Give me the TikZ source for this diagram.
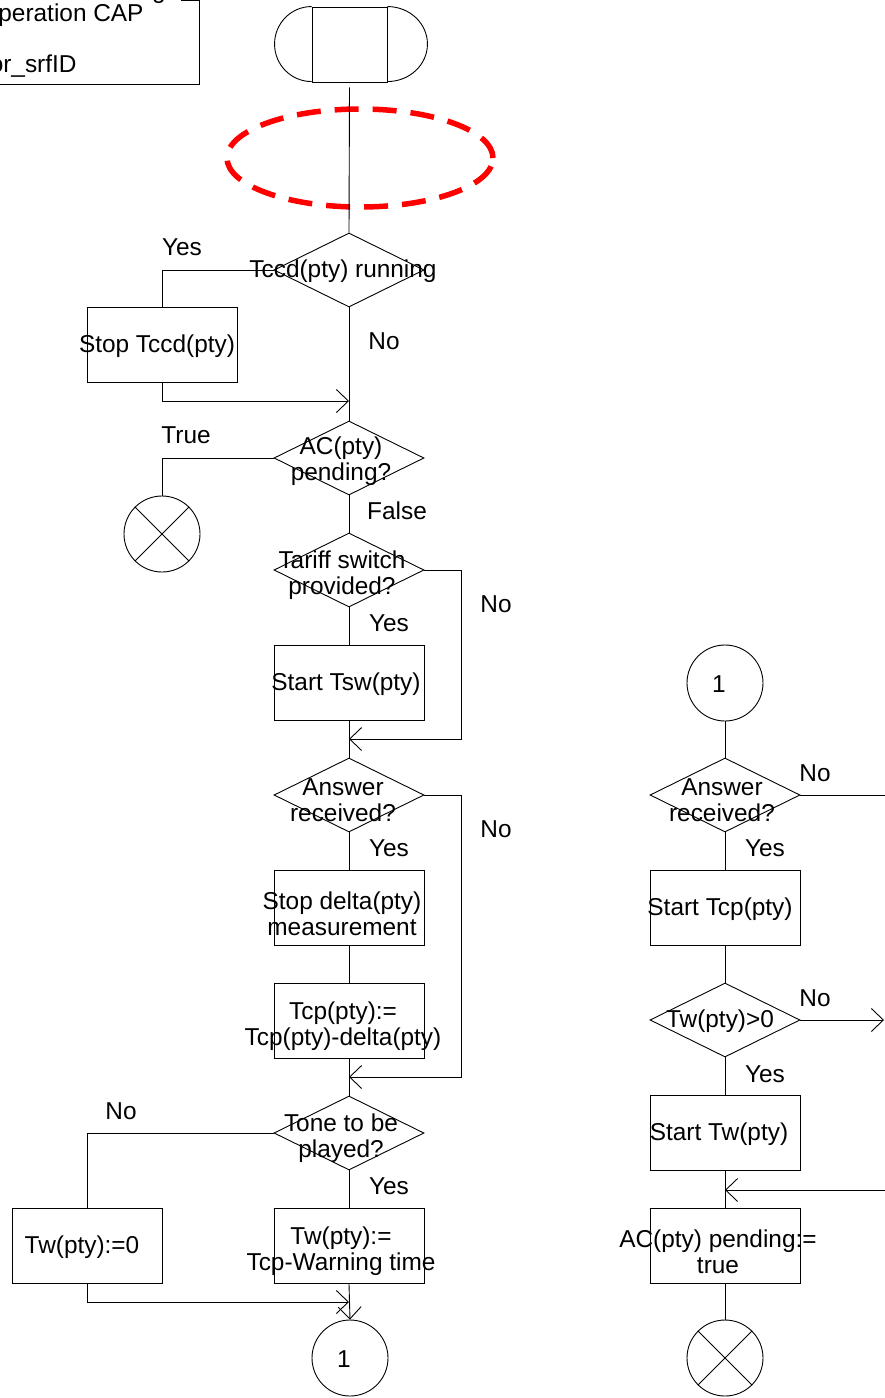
\documentclass[tikz,border=0pt]{standalone}
\usepackage{fontspec}
\setmainfont{Liberation Sans}
\usetikzlibrary{shapes.geometric,arrows.meta}
\begin{document}
\begin{tikzpicture}[x=1pt,y=-1pt,
  line width=0.9pt,
  txt/.style={font=\fontsize{24.4pt}{26pt}\selectfont, inner sep=0pt, align=center, yshift=-1.5pt},
  box/.style={draw, rectangle, minimum width=150pt, minimum height=75pt, inner sep=0pt},
  dec/.style={draw, diamond, minimum width=150pt, minimum height=74pt, inner sep=0pt},
  conn/.style={draw, circle, minimum size=76pt, inner sep=0pt},
  arr/.style={-{Straight Barb[length=12pt,width=23pt,line width=0.9pt]}},
  redell/.style={draw=red, line width=5.5pt, dash pattern=on 24pt off 14pt}]
\useasboundingbox (0,0) rectangle (885,1398);

% top-left partial box
\draw (181,0.5) -- (199,0.5) -- (199,84) -- (-5,84);
\node[txt, anchor=east] (tl1) at (144,14) {operation CAP};
\node[txt, anchor=east] (tl2) at (77,65) {or\_srfID};
\node[txt, anchor=base] (tl0) at (159,-3) {g};

% terminator
\node[draw, rectangle, minimum width=75pt, minimum height=75pt, inner sep=0pt] (term) at (349.5,44.5) {};
\draw (term.north west) arc[start angle=90, end angle=270, x radius=37pt, y radius=37.5pt];
\draw (term.north east) arc[start angle=90, end angle=-90, x radius=40pt, y radius=37.5pt];

% red dashed ellipse
\draw[redell] (360,158) ellipse[x radius=133pt, y radius=49pt];

% main column
\node[dec] (d1) at (349,270) {};
\node[box] (b1) at (162,345) {};
\node[dec] (d2) at (349,458) {};
\node[conn] (x1) at (162,534) {};
\node[dec] (d3) at (349,570) {};
\node[box] (b2) at (349,683) {};
\node[dec] (d4) at (349,795) {};
\node[box] (b3) at (349,908) {};
\node[box] (b4) at (349,1021) {};
\node[dec] (d5) at (349,1133) {};
\node[box] (b5) at (87,1246) {};
\node[box] (b6) at (349,1246) {};
\node[conn] (c1) at (350,1358) {};

\coordinate (m1) at (349,401);
\coordinate (m2) at (349,739);
\coordinate (m3) at (349,1077);
\coordinate (m4) at (349,1302);

\draw ([yshift=-5pt]term.south) -- (d1.north);
\draw (d1.west) -| (b1.north);
\draw (d1.south) -- (d2.north);
\draw[arr] (b1.south) |- (m1);
\draw (d2.west) -| (x1.north);
\draw (x1.north west) -- (x1.south east);
\draw (x1.north east) -- (x1.south west);
\draw (d2.south) -- (d3.north);
\draw (d3.south) -- (b2.north);
\draw (b2.south) -- (d4.north);
\draw[arr] (d3.east) -- ++(37,0) |- (m2);
\draw (d4.south) -- (b3.north);
\draw (b3.south) -- (b4.north);
\draw (b4.south) -- (d5.north);
\draw[arr] (d4.east) -- ++(37,0) |- (m3);
\draw (d5.west) -| (b5.north);
\draw (d5.south) -- (b6.north);
\draw[arr] (b6.south) -- (c1.north);
\draw[arr] (b5.south) |- (m4);

% right column
\node[conn] (c2) at (725,683) {};
\node[dec] (d6) at (725,795) {};
\node[box] (b7) at (725,908) {};
\node[dec] (d7) at (725,1020) {};
\node[box] (b8) at (725,1133) {};
\node[box] (b9) at (725,1246) {};
\node[conn] (x2) at (725,1358) {};
\coordinate (e1) at (886,795);
\coordinate (e2) at (884,1020);
\coordinate (e3) at (886,1190);
\coordinate (m5) at (725,1190);

\draw (c2.south) -- (d6.north);
\draw (d6.east) -- (e1);
\draw (d6.south) -- (b7.north);
\draw (b7.south) -- (d7.north);
\draw[arr] (d7.east) -- (e2);
\draw (d7.south) -- (b8.north);
\draw (b8.south) -- (b9.north);
\draw[arr] (e3) -- (m5);
\draw (b9.south) -- (x2.north);
\draw (x2.north west) -- (x2.south east);
\draw (x2.north east) -- (x2.south west);

% texts
\node[txt] at (182,246) {Yes};
\node[txt] at (343,270) {Tccd(pty) running};
\node[txt] at (157,345) {Stop Tccd(pty)};
\node[txt] at (384,340) {No};
\node[txt] at (186,434) {True};
\node[txt] at (341,460) {AC(pty)\\pending?};
\node[txt] at (397,509) {False};
\node[txt] at (342,574) {Tariff switch\\provided?};
\node[txt] at (496,603) {No};
\node[txt] at (389,622) {Yes};
\node[txt] at (346,683) {Start Tsw(pty)};
\node[txt] at (343,799) {Answer\\received?};
\node[txt] at (496,828) {No};
\node[txt] at (389,847) {Yes};
\node[txt] at (342,912) {Stop delta(pty)\\measurement};
\node[txt] at (343,1025) {Tcp(pty):=\\Tcp(pty)-delta(pty)};
\node[txt] at (341,1137) {Tone to be\\played?};
\node[txt] at (121,1110) {No};
\node[txt] at (389,1185) {Yes};
\node[txt] at (82,1246) {Tw(pty):=0};
\node[txt] at (341,1250) {Tw(pty):=\\Tcp-Warning time};
\node[txt] at (344,1358) {1};

\node[txt] at (719,683) {1};
\node[txt] at (722,799) {Answer\\received?};
\node[txt] at (815,772) {No};
\node[txt] at (765,847) {Yes};
\node[txt] at (720,908) {Start Tcp(pty)};
\node[txt] at (720,1020) {Tw(pty)>0};
\node[txt] at (815,997) {No};
\node[txt] at (765,1073) {Yes};
\node[txt] at (719,1133) {Start Tw(pty)};
\node[txt] at (718,1250) {AC(pty) pending:=\\true};
\end{tikzpicture}
\end{document}
